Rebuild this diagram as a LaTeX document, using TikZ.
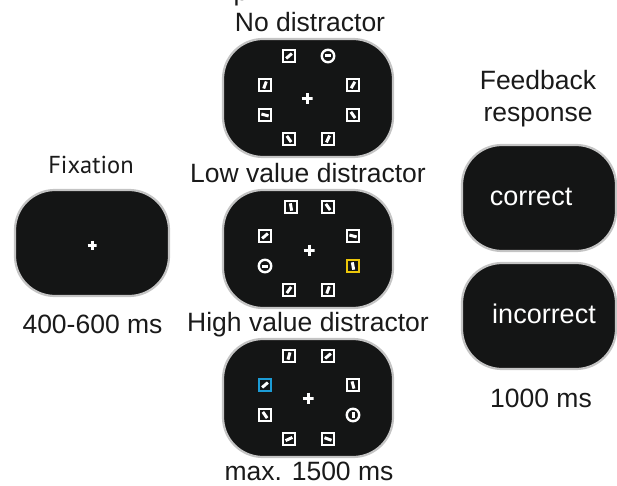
\documentclass[tikz,border=0pt]{standalone}
\usepackage{fontspec}
\setmainfont{Liberation Sans}
\newfontfamily\fixfont{PT Sans}
\usetikzlibrary{calc}

\definecolor{screen}{RGB}{20,21,21}
\definecolor{rim}{RGB}{196,196,196}
\definecolor{ink}{RGB}{26,26,26}
\definecolor{lowval}{RGB}{236,198,10}
\definecolor{highval}{RGB}{28,156,214}

% square with tilted bar / ring with bar
\newcommand\stimsq[3][white]{%
  \node [sq,draw=#1] at (#2) {};
  \node [bar,rotate=#3] at (#2) {};}
\newcommand\stimring[2]{%
  \node [ring] at (#1) {};
  \node [bar,minimum width=6.5pt,rotate=#2] at (#1) {};}

\tikzset{
  panel/.style={fill=screen,draw=rim,line width=2.2pt,rounded corners=40pt,
    minimum width=170pt,minimum height=118pt,inner sep=0pt},
  fbpanel/.style={panel,minimum width=154pt,minimum height=106pt},
  lbl/.style={font=\fontsize{26.5}{30}\selectfont,text=ink,inner sep=0pt,anchor=base},
  onscreen/.style={lbl,text=white,font=\fontsize{27}{30}\selectfont},
  sq/.style={rectangle,fill=screen,line width=2.2pt,minimum size=12pt,inner sep=0pt},
  ring/.style={circle,fill=screen,draw=white,line width=2.4pt,minimum size=12.5pt,inner sep=0pt},
  bar/.style={rectangle,fill=white,minimum width=7.5pt,minimum height=3pt,inner sep=0pt},
  fixcross/.style={minimum size=#1,inner sep=0pt,
    path picture={\draw [white,line width=3pt]
      (path picture bounding box.north) -- (path picture bounding box.south)
      (path picture bounding box.west) -- (path picture bounding box.east);}},
}

\begin{document}
\begin{tikzpicture}[x=1pt,y=-1pt]
  \useasboundingbox (0,0) rectangle (617,486);
  % cut-off title above
  \begin{scope}
    \clip (0,0) rectangle (617,486);
    \node [lbl,anchor=base west] (cut) at (233.3,1) {p};
  \end{scope}

  % Fixation
  \node [lbl,font=\fixfont\fontsize{24.5}{28}\selectfont] (fixlbl) at (91,174) {Fixation};
  \node [fbpanel] (fix) at (92,243) {};
  \node [fixcross=9pt] (fixc) at (92,245) {};
  \node [lbl] (fixtime) at (92.5,333) {400-600 ms};

  % Search displays
  \node [lbl] (nolbl) at (310,32) {No distractor};
  \node [panel] (nodist) at (308,98) {};
  \node [fixcross=11pt] (noc) at (307,99) {};
  \foreach \dx/\dy/\ang in {-19/-42/40,-43/-13/70,45/-13/60,-43/17/-15,
                            45/17/-55,-19/41/-55,20/41/65}
    \stimsq{$(nodist)+(\dx,\dy)$}{\ang};
  \stimring{$(nodist)+(20,-42)$}{0};

  \node [lbl] (lowlbl) at (308,182.5) {Low value distractor};
  \node [panel] (lowdist) at (308,249) {};
  \node [fixcross=11pt] (lowc) at (309,250) {};
  \foreach \dx/\dy/\ang in {-17/-42/100,20/-42/-55,-43/-13/40,45/-13/-15,
                            -19/41/55,20/41/70}
    \stimsq{$(lowdist)+(\dx,\dy)$}{\ang};
  \stimring{$(lowdist)+(-43,17)$}{0};
  \stimsq[lowval]{$(lowdist)+(45,17)$}{100};

  \node [lbl] (highlbl) at (308,331.5) {High value distractor};
  \node [panel] (highdist) at (308,398) {};
  \node [fixcross=11pt] (highc) at (308,398) {};
  \foreach \dx/\dy/\ang in {-19/-42/75,20/-42/40,45/-13/-75,-43/17/-55,
                            -19/41/25,20/41/-20}
    \stimsq{$(highdist)+(\dx,\dy)$}{\ang};
  \stimsq[highval]{$(highdist)+(-43,-13)$}{40};
  \stimring{$(highdist)+(45,17)$}{90};
  \node [lbl] (searchtime) at (309,480) {max. 1500 ms};

  % Feedback
  \node [lbl] (fblbl) at (538,90) {Feedback};
  \node [lbl] (resplbl) at (538,122) {response};
  \node [fbpanel] (good) at (539,198) {};
  \node [onscreen] (goodtxt) at (531,205) {correct};
  \node [fbpanel] (bad) at (539,316) {};
  \node [onscreen] (badtxt) at (544,323.5) {incorrect};
  \node [lbl] (fbtime) at (541,407) {1000 ms};
\end{tikzpicture}
\end{document}
